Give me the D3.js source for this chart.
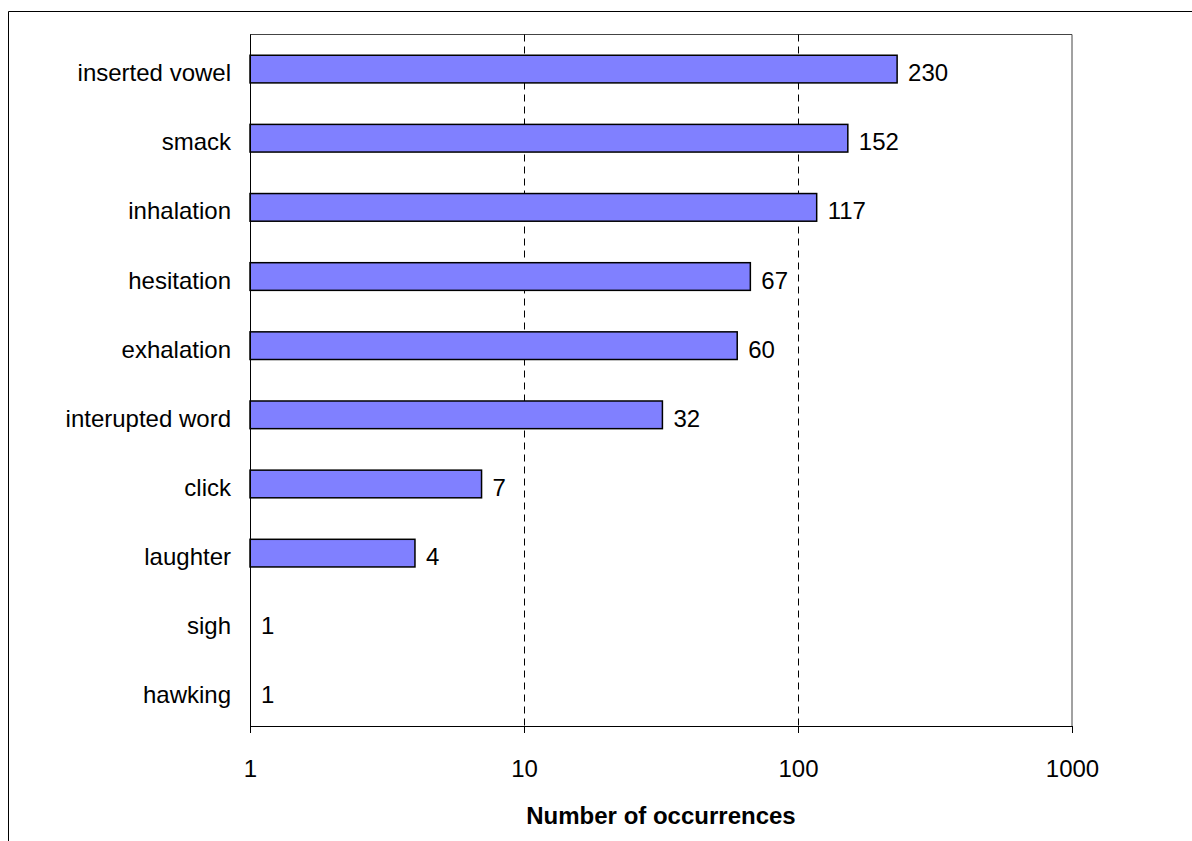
<!DOCTYPE html>
<html>
<head>
<meta charset="utf-8">
<script src="https://cdn.jsdelivr.net/npm/d3@7"></script>
<style>
    body { margin: 0; background: #fff; }
    text { font-family: Arial, 'Liberation Sans', sans-serif; fill: #000; }
</style>
</head>
<body>
<svg id="chart"></svg>
<script>
const categories = ['inserted vowel', 'smack', 'inhalation', 'hesitation', 'exhalation',
    'interupted word', 'click', 'laughter', 'sigh', 'hawking']
const counts = [230, 152, 117, 67, 60, 32, 7, 4, 1, 1]
const xTicks = [1, 10, 100, 1000]
const xTitle = 'Number of occurrences'

const chart = {}

!function init() {
    chart.width_ = 1192
    chart.height_ = 841
    chart.margin = {top: 34.5, right: 120, bottom: 115, left: 250}
    chart.width = chart.width_ - chart.margin.left - chart.margin.right
    chart.height = chart.height_ - chart.margin.top - chart.margin.bottom

    chart.svg = d3.select('#chart')
        .attr('width', chart.width_)
        .attr('height', chart.height_)

    // outer frame, cut off by the page on the right and bottom
    chart.svg.append('path')
        .attr('fill', 'none')
        .attr('stroke', '#000')
        .attr('stroke-width', 1)
        .attr('d', 'M8.5,' + chart.height_ + 'V11.5H' + chart.width_)

    chart.g = chart.svg.append('g')
        .attr('transform', `translate(${chart.margin.left}, ${chart.margin.top})`)

    // x: count -> log position
    chart.x = d3.scaleLog()
        .domain([1, 1000])
        .range([0, chart.width])

    // y: category -> band, Excel gap width 150%
    chart.y = d3.scaleBand()
        .domain(categories)
        .range([0, chart.height])
        .paddingInner(0.6)
        .paddingOuter(0.3)
}()

chart.update = function() {
    const g = chart.g

    // plot area border (top and right)
    g.append('path')
        .attr('fill', 'none')
        .attr('stroke', '#444')
        .attr('d', `M0,0H${chart.width}V${chart.height}`)

    // gridlines
    g.append('g').selectAll('line')
        .data(xTicks.slice(1, -1))
        .enter().append('line')
        .attr('x1', d => Math.round(chart.x(d)) + 0.5)
        .attr('x2', d => Math.round(chart.x(d)) + 0.5)
        .attr('y1', 0)
        .attr('y2', chart.height)
        .attr('stroke', '#000')
        .attr('stroke-dasharray', '7,5')

    // bars
    const bar = g.append('g').selectAll('rect').data(counts)
    bar.enter().append('rect')
        .filter(d => d > 1)
        .attr('x', 0)
        .attr('y', (d, i) => chart.y(categories[i]))
        .attr('width', d => chart.x(d))
        .attr('height', chart.y.bandwidth())
        .attr('fill', '#8080ff')
        .attr('stroke', '#000')
        .attr('stroke-width', 1.5)

    // value labels
    g.append('g').selectAll('text').data(counts)
        .enter().append('text')
        .attr('x', d => chart.x(d) + 11)
        .attr('y', (d, i) => chart.y(categories[i]) + chart.y.bandwidth() / 2)
        .attr('dy', '0.5em')
        .attr('font-size', 24)
        .text(d => d)

    // category labels
    g.append('g').selectAll('text').data(categories)
        .enter().append('text')
        .attr('x', -19)
        .attr('y', d => chart.y(d) + chart.y.bandwidth() / 2)
        .attr('dy', '0.5em')
        .attr('text-anchor', 'end')
        .attr('font-size', 24)
        .text(d => d)

    // axes
    g.append('line')
        .attr('x1', 0.5).attr('x2', 0.5)
        .attr('y1', 0).attr('y2', chart.height)
        .attr('stroke', '#000')
    g.append('line')
        .attr('x1', 0).attr('x2', chart.width)
        .attr('y1', chart.height + 0.5).attr('y2', chart.height + 0.5)
        .attr('stroke', '#000')

    const xTick = g.append('g').selectAll('g')
        .data(xTicks)
        .enter().append('g')
        .attr('transform', d => `translate(${Math.round(chart.x(d)) + 0.5}, ${chart.height})`)
    xTick.append('line')
        .attr('y2', 7)
        .attr('stroke', '#000')
    xTick.append('text')
        .attr('y', 51)
        .attr('text-anchor', 'middle')
        .attr('font-size', 24)
        .text(d => d)

    g.append('text')
        .attr('x', chart.width / 2)
        .attr('y', chart.height + 98)
        .attr('text-anchor', 'middle')
        .attr('font-size', 24)
        .attr('font-weight', 'bold')
        .text(xTitle)

    return chart
}

chart.update()
</script>
</body>
</html>
